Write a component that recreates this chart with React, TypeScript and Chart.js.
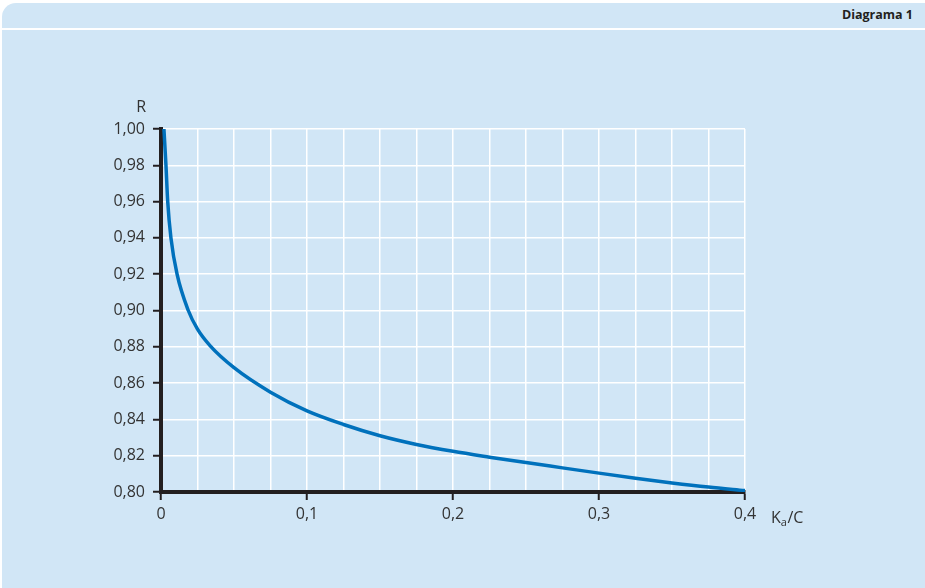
import React, { useEffect, useRef } from "react";
import { Chart, registerables } from "chart.js";

Chart.register(...registerables);

// Data (Ka/C on x, R on y)
const kaOverC: number[] = [0.002, 0.0034, 0.0046, 0.0068, 0.011, 0.0187, 0.025, 0.0337, 0.05, 0.075, 0.1, 0.125, 0.15, 0.175, 0.2, 0.225, 0.25, 0.275, 0.3, 0.325, 0.35, 0.375, 0.4];
const rValues: number[] = [1.0, 0.98, 0.96, 0.94, 0.92, 0.9, 0.8897, 0.8805, 0.8685, 0.855, 0.8447, 0.8372, 0.831, 0.8262, 0.8224, 0.8192, 0.8162, 0.8133, 0.8104, 0.8076, 0.805, 0.8027, 0.8008];

const xMin = 0;
const xMax = 0.4;
const xGridStep = 0.025;
const xLabelEvery = 0.1;
const yMin = 0.8;
const yMax = 1.0;
const yStep = 0.02;

const titleText = "Diagrama 1";
const yAxisTitle = "R";
const xAxisTitleMain = "K";
const xAxisTitleSub = "a";
const xAxisTitleRest = "/C";

const FONT = "'Open Sans', 'Noto Sans', sans-serif";
const DARK = "#231f20";
const LABEL = "#333333";
const BLUE = "#0071bc";
const BG = "#d1e6f6";

const isLabelTick = (v: number) => Math.round(v * 1000) % Math.round(xLabelEvery * 1000) === 0;

const axisTitlesPlugin = {
  id: "axisTitles",
  afterDraw(chart: any) {
    const ctx = chart.ctx;
    const xs = chart.scales.x;
    const ys = chart.scales.y;
    ctx.save();
    ctx.fillStyle = LABEL;
    ctx.textBaseline = "alphabetic";
    // R
    ctx.font = `16px ${FONT}`;
    ctx.textAlign = "right";
    ctx.fillText(yAxisTitle, ys.right - 15, ys.top - 17);
    // Ka/C
    ctx.textAlign = "left";
    let x = xs.right + 26;
    const base = xs.top + 31;
    ctx.font = `16px ${FONT}`;
    ctx.fillText(xAxisTitleMain, x, base);
    x += ctx.measureText(xAxisTitleMain).width;
    ctx.font = `11px ${FONT}`;
    ctx.fillText(xAxisTitleSub, x, base + 3);
    x += ctx.measureText(xAxisTitleSub).width + 0.5;
    ctx.font = `16px ${FONT}`;
    ctx.fillText(xAxisTitleRest, x, base);
    ctx.restore();
  },
};

export default function App() {
  const canvasRef = useRef<HTMLCanvasElement | null>(null);

  useEffect(() => {
    if (!canvasRef.current) return;
    const points = kaOverC.map((x, i) => ({ x, y: rValues[i] }));
    const chart = new Chart(canvasRef.current, {
      type: "line",
      data: {
        datasets: [
          {
            data: points,
            borderColor: BLUE,
            borderWidth: 3.5,
            pointRadius: 0,
            fill: false,
            cubicInterpolationMode: "monotone",
          },
        ],
      },
      options: {
        responsive: false,
        animation: false,
        devicePixelRatio: 1,
        layout: { padding: { top: 129, right: 180, bottom: 0, left: 0 } },
        plugins: {
          legend: { display: false },
          tooltip: { enabled: false },
          title: { display: false },
        },
        scales: {
          x: {
            type: "linear",
            min: xMin,
            max: xMax,
            afterFit: (scale: any) => {
              scale.height = 96;
            },
            border: { display: true, color: DARK, width: 4 },
            grid: {
              color: "#ffffff",
              lineWidth: 1.5,
              drawTicks: true,
              tickLength: 8,
              tickWidth: 2,
              tickColor: (c: any) => (c.tick && isLabelTick(c.tick.value) ? DARK : "rgba(0,0,0,0)"),
            },
            ticks: {
              stepSize: xGridStep,
              autoSkip: false,
              maxRotation: 0,
              padding: 5,
              color: LABEL,
              font: { family: FONT, size: 16 },
              callback: (v: any) => {
                const n = Number(v);
                if (!isLabelTick(n)) return "";
                if (Math.abs(n) < 1e-9) return "0";
                return n.toFixed(1).replace(".", ",");
              },
            },
          },
          y: {
            type: "linear",
            min: yMin,
            max: yMax,
            afterFit: (scale: any) => {
              scale.width = 161;
            },
            border: { display: true, color: DARK, width: 4 },
            grid: {
              color: "#ffffff",
              lineWidth: 1.5,
              drawTicks: true,
              tickLength: 8,
              tickWidth: 2,
              tickColor: DARK,
            },
            ticks: {
              stepSize: yStep,
              autoSkip: false,
              padding: 8,
              color: LABEL,
              font: { family: FONT, size: 16 },
              callback: (v: any) => Number(v).toFixed(2).replace(".", ","),
            },
          },
        },
      },
      plugins: [axisTitlesPlugin],
    } as any);
    return () => chart.destroy();
  }, []);

  return (
    <div style={{ position: "fixed", left: 0, top: 0, width: 925, height: 588, background: "#ffffff", overflow: "hidden" }}>
      <div
        style={{
          position: "absolute",
          left: 2,
          top: 3,
          right: 0,
          bottom: 0,
          background: BG,
          borderTopLeftRadius: 14,
        }}
      />
      <div style={{ position: "absolute", left: 2, right: 0, top: 28, height: 2, background: "#ffffff" }} />
      <div
        style={{
          position: "absolute",
          right: 12,
          top: 6,
          fontFamily: FONT,
          fontWeight: 700,
          fontSize: 12.5,
          color: DARK,
          lineHeight: "18px",
        }}
      >
        {titleText}
      </div>
      <canvas
        ref={canvasRef}
        width={925}
        height={588}
        style={{ position: "absolute", left: 0, top: 0, width: 925, height: 588, display: "block" }}
      />
    </div>
  );
}
